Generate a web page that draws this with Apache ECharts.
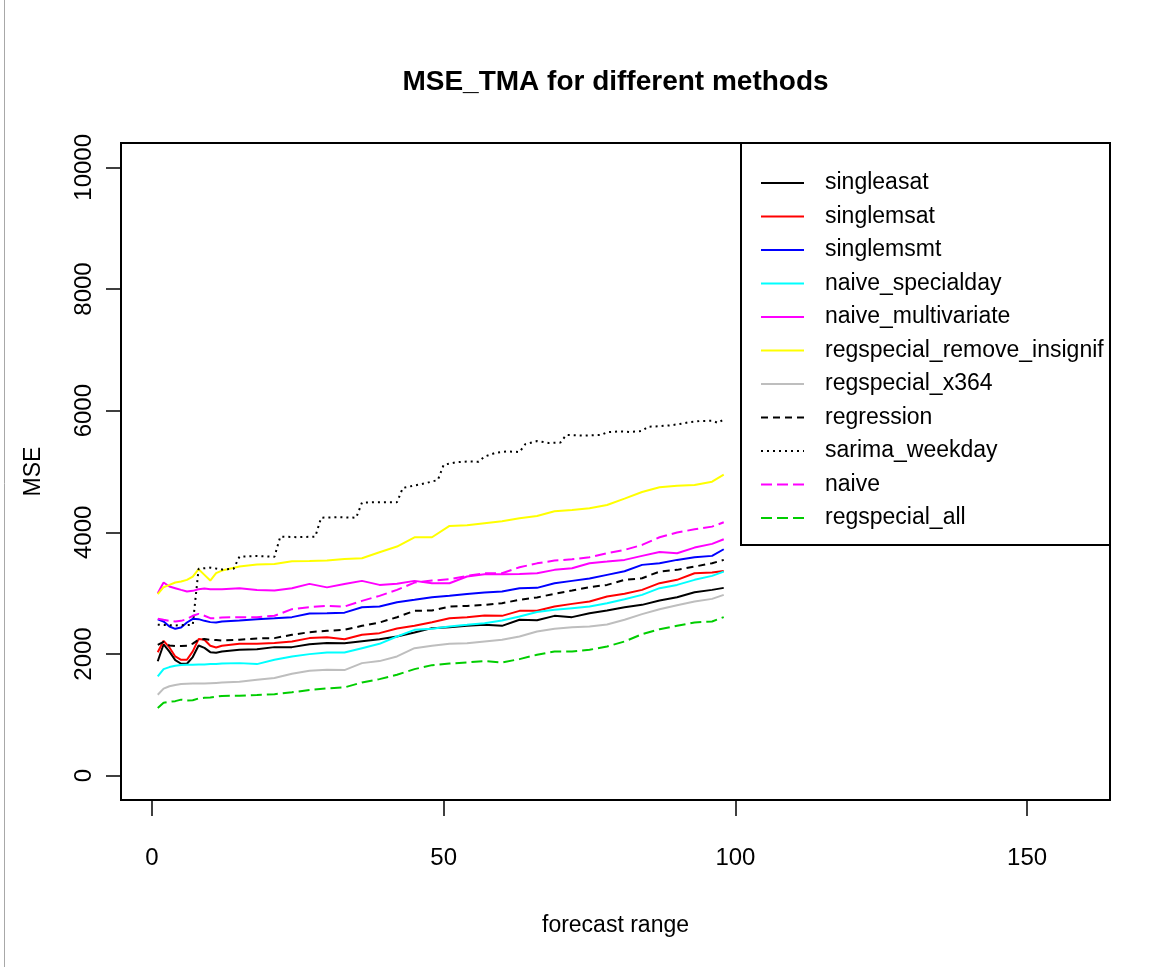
<!DOCTYPE html>
<html>
<head>
<meta charset="utf-8">
<script src="https://cdn.jsdelivr.net/npm/echarts@6/dist/echarts.min.js"></script>
<style>
  html, body { margin: 0; padding: 0; background: #ffffff; }
  #chart { width: 1167px; height: 967px; }
</style>
</head>
<body>
<div id="chart"></div>
<script>
// forecast horizons (days ahead) at which the MSE curves are sampled
const T = [1, 2, 3, 4, 5, 6, 7, 8, 9, 10, 11, 12, 15, 18, 21, 24, 27, 30, 33, 36, 39, 42, 45, 48,
           51, 54, 57, 60, 63, 66, 69, 72, 75, 78, 81, 84, 87, 90, 93, 96, 98];

const singleasat = [1880, 2160, 2040, 1900, 1840, 1840, 1950, 2140, 2100, 2030, 2020, 2040, 2069, 2080,
  2113, 2113, 2162, 2179, 2178, 2211, 2244, 2288, 2353, 2425, 2441, 2463, 2479, 2463, 2562, 2555, 2627,
  2606, 2671, 2715, 2770, 2808, 2879, 2934, 3016, 3054, 3087];
const singlemsat = [2030, 2217, 2108, 1960, 1905, 1905, 2042, 2245, 2234, 2135, 2108, 2135, 2168, 2168,
  2179, 2206, 2261, 2277, 2244, 2315, 2343, 2419, 2463, 2523, 2589, 2605, 2633, 2627, 2709, 2712, 2781,
  2824, 2863, 2945, 2989, 3054, 3164, 3219, 3328, 3339, 3366];
const singlemsmt = [2570, 2534, 2452, 2414, 2436, 2518, 2578, 2573, 2545, 2524, 2518, 2534, 2551, 2573,
  2589, 2606, 2665, 2671, 2680, 2769, 2780, 2852, 2890, 2934, 2956, 2988, 3010, 3027, 3081, 3087, 3164,
  3202, 3240, 3301, 3361, 3465, 3492, 3547, 3591, 3613, 3722];
const naiveSpecialday = [1631, 1752, 1785, 1807, 1818, 1823, 1823, 1829, 1829, 1834, 1834, 1845, 1850,
  1834, 1905, 1960, 1998, 2025, 2025, 2096, 2167, 2288, 2397, 2414, 2452, 2479, 2507, 2551, 2616, 2690,
  2726, 2753, 2780, 2835, 2901, 2972, 3082, 3136, 3219, 3284, 3355];
const naiveMultivariate = [3000, 3175, 3109, 3082, 3054, 3027, 3038, 3065, 3076, 3065, 3065, 3065, 3082,
  3054, 3043, 3082, 3153, 3095, 3150, 3202, 3136, 3153, 3202, 3164, 3164, 3273, 3311, 3311, 3317, 3328,
  3383, 3410, 3492, 3519, 3547, 3613, 3678, 3656, 3749, 3810, 3886];
const regspecialRemoveInsignif = [2985, 3098, 3136, 3175, 3191, 3219, 3273, 3394, 3301, 3207, 3328, 3372,
  3438, 3470, 3481, 3525, 3530, 3536, 3563, 3574, 3673, 3766, 3919, 3919, 4105, 4116, 4149, 4182, 4231,
  4269, 4346, 4368, 4395, 4450, 4554, 4663, 4740, 4767, 4778, 4833, 4948];
const regspecialX364 = [1330, 1430, 1470, 1490, 1505, 1511, 1515, 1515, 1515, 1520, 1525, 1530, 1544,
  1577, 1604, 1675, 1724, 1740, 1735, 1850, 1883, 1960, 2096, 2134, 2167, 2178, 2206, 2233, 2288, 2370,
  2414, 2441, 2452, 2485, 2562, 2655, 2737, 2803, 2863, 2906, 2972];
const regression = [2150, 2200, 2140, 2130, 2130, 2135, 2170, 2234, 2245, 2234, 2230, 2223, 2234, 2256,
  2261, 2316, 2359, 2381, 2397, 2463, 2518, 2605, 2709, 2715, 2780, 2791, 2808, 2835, 2890, 2930, 2989,
  3043, 3098, 3136, 3218, 3246, 3355, 3383, 3437, 3492, 3547];
const naive = [2580, 2562, 2545, 2534, 2545, 2573, 2628, 2660, 2628, 2589, 2589, 2600, 2606, 2606, 2628,
  2737, 2770, 2792, 2780, 2873, 2956, 3054, 3174, 3207, 3229, 3284, 3328, 3328, 3426, 3490, 3536, 3558,
  3591, 3656, 3711, 3793, 3919, 3996, 4050, 4094, 4165];
const regspecialAll = [1111, 1200, 1215, 1225, 1250, 1235, 1240, 1270, 1280, 1285, 1300, 1310, 1314,
  1325, 1340, 1370, 1410, 1435, 1450, 1533, 1587, 1659, 1751, 1817, 1844, 1861, 1883, 1861, 1916, 1987,
  2042, 2042, 2069, 2124, 2206, 2326, 2408, 2463, 2518, 2534, 2606];

// the seasonal ARIMA curve moves in weekly steps, so it keeps its own horizons
const sarimaT = [1, 4, 7, 8, 10, 12, 14, 15, 18, 21, 22, 25, 28, 29, 32, 35, 36, 39, 42, 43, 45, 47, 49,
  50, 52, 54, 56, 57, 59, 61, 63, 64, 66, 68, 70, 71, 74, 77, 78, 80, 82, 84, 85, 87, 89, 91, 92, 94,
  96, 97, 98];
const sarimaWeekday = [2480, 2470, 2480, 3400, 3420, 3390, 3400, 3600, 3610, 3600, 3930, 3920, 3930, 4240,
  4250, 4240, 4490, 4495, 4495, 4730, 4770, 4810, 4860, 5110, 5150, 5165, 5160, 5245, 5310, 5330, 5320,
  5450, 5500, 5470, 5475, 5600, 5590, 5600, 5645, 5660, 5650, 5665, 5735, 5745, 5760, 5790, 5810, 5830,
  5835, 5800, 5855];

const xTicks = [0, 50, 100, 150];
const yTicks = [0, 2000, 4000, 6000, 8000, 10000];

const FONT = "'Liberation Sans', Arial, Helvetica, sans-serif";

function pairs(xs, ys) { return xs.map((x, i) => [x, ys[i]]); }

const lines = [
  { name: 'singleasat',                 x: T,       y: singleasat,               color: '#000000', dash: 'solid' },
  { name: 'singlemsat',                 x: T,       y: singlemsat,               color: '#ff0000', dash: 'solid' },
  { name: 'singlemsmt',                 x: T,       y: singlemsmt,               color: '#0000ff', dash: 'solid' },
  { name: 'naive_specialday',           x: T,       y: naiveSpecialday,          color: '#00ffff', dash: 'solid' },
  { name: 'naive_multivariate',         x: T,       y: naiveMultivariate,        color: '#ff00ff', dash: 'solid' },
  { name: 'regspecial_remove_insignif', x: T,       y: regspecialRemoveInsignif, color: '#ffff00', dash: 'solid' },
  { name: 'regspecial_x364',            x: T,       y: regspecialX364,           color: '#bebebe', dash: 'solid' },
  { name: 'regression',                 x: T,       y: regression,               color: '#000000', dash: [7, 5] },
  { name: 'sarima_weekday',             x: sarimaT, y: sarimaWeekday,            color: '#000000', dash: [2, 4] },
  { name: 'naive',                      x: T,       y: naive,                    color: '#ff00ff', dash: [11, 5] },
  { name: 'regspecial_all',             x: T,       y: regspecialAll,            color: '#00cd00', dash: [11, 5] }
];

const chart = echarts.init(document.getElementById('chart'), null, { renderer: 'canvas' });

const tickText = { fontFamily: FONT, fontSize: 24, color: '#000' };
const nameText = { fontFamily: FONT, fontSize: 23, color: '#000' };

chart.setOption({
  animation: false,
  backgroundColor: '#ffffff',
  grid: {
    left: 121, top: 143, width: 989, height: 657,
    show: true, borderColor: '#000', borderWidth: 2, backgroundColor: 'transparent'
  },
  xAxis: {
    type: 'value', min: -5.3, max: 164.2,
    name: 'forecast range', nameLocation: 'middle', nameGap: 114,
    nameTextStyle: nameText,
    axisLine: { show: false, onZero: false },
    splitLine: { show: false },
    axisTick: { show: true, customValues: xTicks, length: 16, lineStyle: { color: '#000', width: 1.5 } },
    axisLabel: Object.assign({ customValues: xTicks, margin: 46, formatter: v => String(v) }, tickText)
  },
  yAxis: {
    type: 'value', min: -400, max: 10400,
    name: 'MSE', nameLocation: 'middle', nameGap: 76,
    nameTextStyle: nameText,
    axisLine: { show: false, onZero: false },
    splitLine: { show: false },
    axisTick: { show: true, customValues: yTicks, length: 15, lineStyle: { color: '#000', width: 1.5 } },
    axisLabel: Object.assign({ customValues: yTicks, margin: 25, rotate: 90, formatter: v => String(v) }, tickText)
  },
  legend: {
    orient: 'vertical', left: 760, top: 168, padding: 0,
    itemWidth: 43, itemHeight: 14, itemGap: 3.5,
    selectedMode: false,
    itemStyle: { opacity: 0 },
    textStyle: { fontFamily: FONT, fontSize: 23, color: '#000', lineHeight: 30, padding: [0, 0, 0, 16] },
    data: lines.map(l => l.name)
  },
  graphic: [
    {
      type: 'text', x: 615.5, y: 82, z: 10,
      style: {
        text: 'MSE_TMA for different methods', fill: '#000',
        font: "bold 28px " + FONT, textAlign: 'center', textVerticalAlign: 'middle'
      }
    },
    {
      type: 'rect', z: 10,
      shape: { x: 741, y: 143, width: 369, height: 402 },
      style: { fill: 'transparent', stroke: '#000', lineWidth: 2 }
    },
    {
      type: 'line', z: 10,
      shape: { x1: 4.5, y1: 0, x2: 4.5, y2: 967 },
      style: { stroke: '#a8a8a8', lineWidth: 1 }
    }
  ],
  series: lines.map(l => ({
    name: l.name,
    type: 'line',
    data: pairs(l.x, l.y),
    symbol: 'none',
    silent: true,
    emphasis: { disabled: true },
    itemStyle: { color: l.color },
    lineStyle: { color: l.color, width: 2, type: l.dash }
  }))
});
</script>
</body>
</html>
